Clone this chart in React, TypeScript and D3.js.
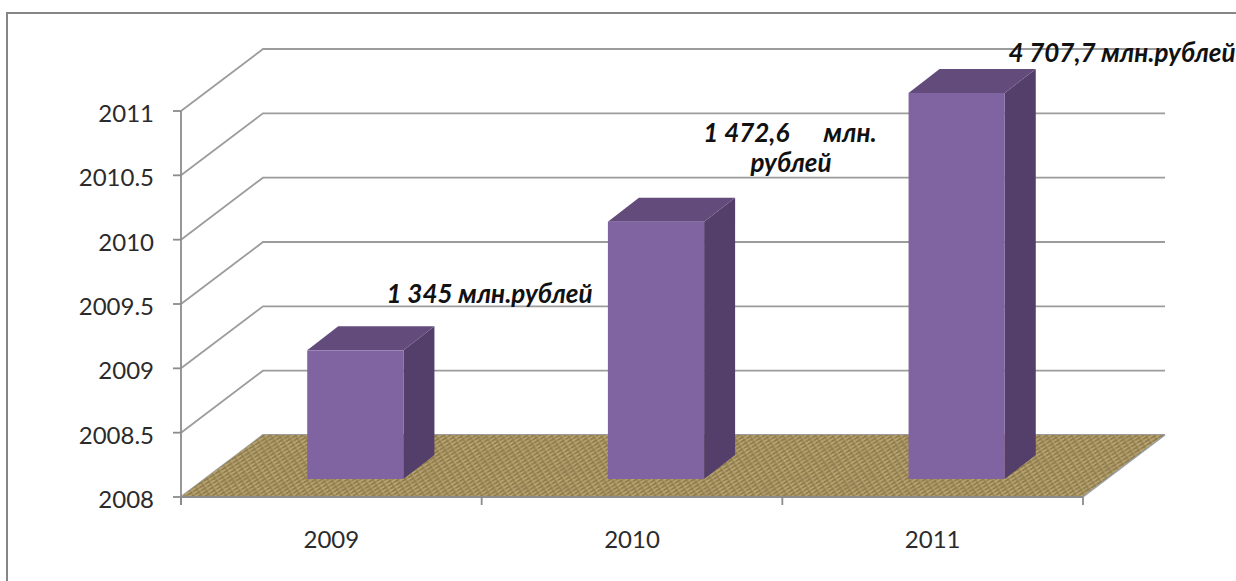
import React from 'react';
import * as d3 from 'd3';

const categories = ['2009', '2010', '2011'];
const values = [2009, 2010, 2011];
const yTicks = [2008, 2008.5, 2009, 2009.5, 2010, 2010.5, 2011];
const notes = [
  ['1 345 млн.рублей'],
  ['1 472,6      млн.', 'рублей'],
  ['4 707,7 млн.рублей'],
];
// baseline and anchor of each note line
const noteSpots = [
  [[489.5, 303]],
  [[790, 142], [791, 172]],
  [[1122, 62]],
];

const width = 1236;
const height = 581;
const x0 = 181;
const x1 = 1083;
const depthX = 82;
const depthY = 62;
const barDepthX = 31;
const barDepthY = 24;
const barShiftX = 24;
const barShiftY = 18;
const gridColor = '#9c9c9c';
const axisColor = '#8c8c8c';
const textColor = '#2b2b2b';

const x = d3.scaleBand<string>().domain(categories).range([x0, x1]);
const y = d3.scaleLinear().domain([2008, 2011]).range([497, 111]);
const poly = d3.line();

const App: React.FC = () => {
  const barW = x.bandwidth() * 0.32;
  const floorPts: [number, number][] = [
    [x0, y(2008)],
    [x1, y(2008)],
    [x1 + depthX, y(2008) - depthY],
    [x0 + depthX, y(2008) - depthY],
  ];

  return (
    <svg
      width={width}
      height={height}
      style={{ position: 'absolute', left: 0, top: 0, background: '#fff', fontFamily: 'Lato, "Open Sans", sans-serif' }}
    >
      <defs>
        <pattern id="burlap" width="7" height="3.4" patternUnits="userSpaceOnUse" patternTransform="rotate(-32)">
          <rect width="7" height="3.4" fill="#a48f5b" />
          <path d="M0 0.8 H5" stroke="#c6b585" strokeWidth="1" />
          <path d="M2 2.5 H7" stroke="#7d6a3d" strokeWidth="0.9" />
        </pattern>
        <filter id="soft" x="-5%" y="-5%" width="110%" height="110%">
          <feGaussianBlur stdDeviation="0.6" />
        </filter>
        <filter id="mottle" x="0" y="0" width="100%" height="100%">
          <feTurbulence type="fractalNoise" baseFrequency="0.05 0.12" numOctaves={2} seed={4} />
          <feColorMatrix values="0 0 0 0 0.3  0 0 0 0 0.23  0 0 0 0 0.1  1.6 0 0 0 -0.62" />
          <feComposite in2="SourceAlpha" operator="in" />
        </filter>
      </defs>

      <path d="M1236 13 H7 V581" fill="none" stroke="#868686" strokeWidth={2} />

      {/* walls */}
      {yTicks.map(t => {
        const py = y(t);
        return (
          <path
            key={t}
            d={poly([[x0, py], [x0 + depthX, py - depthY], [x1 + depthX, py - depthY]]) || ''}
            fill="none"
            stroke={gridColor}
            strokeWidth={1.8}
          />
        );
      })}

      <path d={poly(floorPts) + 'Z'} fill="url(#burlap)" filter="url(#soft)" />
      <path d={poly(floorPts) + 'Z'} fill="#000" filter="url(#mottle)" opacity={0.55} />
      <path d={poly([floorPts[1], floorPts[2]]) || ''} stroke="#9aa0ad" strokeWidth={1.2} fill="none" />

      {/* axes */}
      <path d={`M${x0} ${y(2011)} V${y(2008) + 8}`} stroke={axisColor} strokeWidth={1.8} fill="none" />
      <path d={`M${x0} ${y(2008)} H${x1}`} stroke={axisColor} strokeWidth={2} fill="none" />
      {yTicks.map(t => (
        <g key={t}>
          <line x1={x0 - 8} x2={x0} y1={y(t)} y2={y(t)} stroke={axisColor} strokeWidth={1.8} />
          <text x={x0 - 27} y={y(t) + 11} textAnchor="end" fontSize={24} fill={textColor}>
            {t}
          </text>
        </g>
      ))}
      {[...categories.map(c => x(c) as number), x1].map(v => (
        <line key={v} x1={v} x2={v} y1={y(2008)} y2={y(2008) + 8} stroke={axisColor} strokeWidth={1.8} />
      ))}
      {categories.map(c => (
        <text key={c} x={(x(c) as number) + x.bandwidth() / 2} y={548} textAnchor="middle" fontSize={24} fill={textColor}>
          {c}
        </text>
      ))}

      {/* bars */}
      {categories.map((c, i) => {
        const left = (x(c) as number) + (x.bandwidth() - barW) / 2 + barShiftX;
        const right = left + barW;
        const top = y(values[i]) - barShiftY;
        const bottom = y(2008) - barShiftY;
        return (
          <g key={c}>
            <path
              d={poly([[right, top], [right + barDepthX, top - barDepthY], [right + barDepthX, bottom - barDepthY], [right, bottom]]) + 'Z'}
              fill="#533f69"
            />
            <path
              d={poly([[left, top], [left + barDepthX, top - barDepthY], [right + barDepthX, top - barDepthY], [right, top]]) + 'Z'}
              fill="#634b7c"
            />
            <rect x={left} y={top} width={barW} height={bottom - top} fill="#8064a2" />
          </g>
        );
      })}

      {/* notes */}
      {notes.map((lines, i) =>
        lines.map((line, j) => (
          <text
            key={line}
            x={noteSpots[i][j][0]}
            y={noteSpots[i][j][1]}
            textAnchor="middle"
            fontSize={26}
            fontWeight={700}
            fontStyle="italic"
            fill="#111"
            style={{ whiteSpace: 'pre' }}
          >
            {line}
          </text>
        ))
      )}
    </svg>
  );
};

export default App;
